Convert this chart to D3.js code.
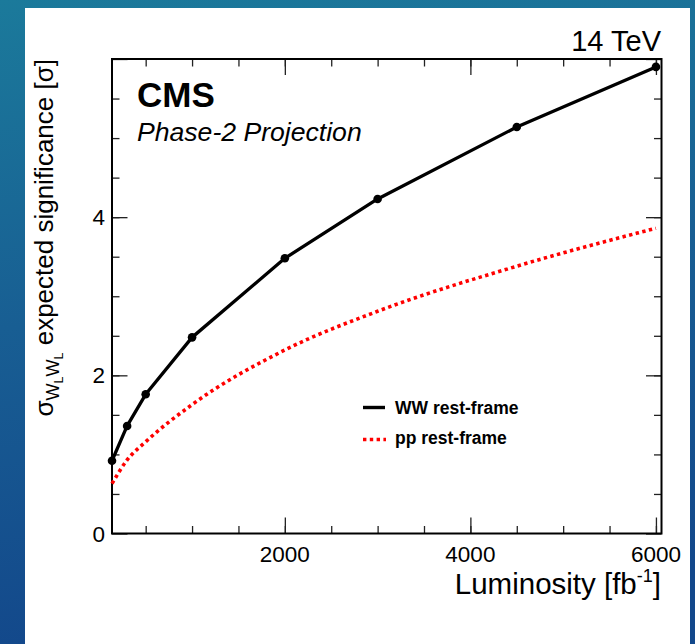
<!DOCTYPE html>
<html>
<head>
<meta charset="utf-8">
<script src="https://cdn.jsdelivr.net/npm/d3@7"></script>
<style>
  html, body { margin: 0; padding: 0; background: #fff; }
  svg { display: block; }
  text { font-family: "Liberation Sans", Arial, Helvetica, sans-serif; fill: #000; }
</style>
</head>
<body>
<svg id="chart" width="695" height="644"></svg>
<script>
// ---- data ----
const luminosity = [137, 300, 500, 1000, 2000, 3000, 4500, 6000];
const sigWW = [0.92, 1.36, 1.76, 2.48, 3.48, 4.23, 5.14, 5.90];
const sigPP = [0.63, 0.93, 1.16, 1.63, 2.32, 2.81, 3.38, 3.86];
const seriesNames = ["WW rest-frame", "pp rest-frame"];
const xMajorTicks = [2000, 4000, 6000];
const xMinorTicks = [500, 1000, 1500, 2000, 2500, 3000, 3500, 4000, 4500, 5000, 5500, 6000];
const yMajorTicks = [0, 2, 4, 6];
const yMinorTicks = [0.5, 1, 1.5, 2, 2.5, 3, 3.5, 4, 4.5, 5, 5.5];
const yTickLabels = ["0", "2", "4"];
const xTickLabels = ["2000", "4000", "6000"];

const svg = d3.select("#chart");
const W = 695, H = 644;

// background
const defs = svg.append("defs");
const grad = defs.append("linearGradient").attr("id", "bg").attr("x1", 0).attr("y1", 0).attr("x2", 0.15).attr("y2", 1);
grad.append("stop").attr("offset", "0%").attr("stop-color", "#1b7a9b");
grad.append("stop").attr("offset", "50%").attr("stop-color", "#185e93");
grad.append("stop").attr("offset", "100%").attr("stop-color", "#13488b");
svg.append("rect").attr("width", W).attr("height", H).attr("fill", "url(#bg)");
svg.append("rect").attr("x", 25).attr("y", 8).attr("width", 665).attr("height", H - 8).attr("fill", "#fff");

const frame = { left: 112, right: 661.5, top: 59, bottom: 533.5 };
const x = d3.scaleLinear().domain([137, 6060]).range([frame.left, frame.right]);
const y = d3.scaleLinear().domain([0, 6]).range([frame.bottom, frame.top]);

const g = svg.append("g");

function tickAxis(axisGen, ticks, size, transform) {
  const a = g.append("g").attr("transform", transform)
    .call(axisGen.tickValues(ticks).tickSize(size).tickFormat(""));
  a.select(".domain").remove();
  a.selectAll("line").attr("stroke", "#222").attr("stroke-width", 1.3);
}
tickAxis(d3.axisTop(x), xMinorTicks, 7.5, `translate(0,${frame.bottom})`);
tickAxis(d3.axisTop(x), xMajorTicks, 16, `translate(0,${frame.bottom})`);
tickAxis(d3.axisBottom(x), xMinorTicks, 7.5, `translate(0,${frame.top})`);
tickAxis(d3.axisBottom(x), xMajorTicks, 16, `translate(0,${frame.top})`);
tickAxis(d3.axisRight(y), yMinorTicks, 7.5, `translate(${frame.left},0)`);
tickAxis(d3.axisRight(y), yMajorTicks, 15.5, `translate(${frame.left},0)`);
tickAxis(d3.axisLeft(y), yMinorTicks, 7.5, `translate(${frame.right},0)`);
tickAxis(d3.axisLeft(y), yMajorTicks, 15.5, `translate(${frame.right},0)`);

// frame
g.append("rect").attr("x", frame.left).attr("y", frame.top)
  .attr("width", frame.right - frame.left).attr("height", frame.bottom - frame.top)
  .attr("fill", "none").attr("stroke", "#000").attr("stroke-width", 2);

// tick labels
g.selectAll(".ylab").data(yTickLabels).join("text")
  .attr("x", 105).attr("y", d => y(+d) + 8).attr("text-anchor", "end")
  .attr("font-size", 22.5).text(d => d);
g.selectAll(".xlab").data(xTickLabels).join("text")
  .attr("x", d => x(+d)).attr("y", 562).attr("text-anchor", "middle")
  .attr("font-size", 22.5).text(d => d);

// axis titles
const xt = g.append("text").attr("x", 661).attr("y", 594).attr("text-anchor", "end").attr("font-size", 29.5);
xt.append("tspan").text("Luminosity [fb");
xt.append("tspan").attr("font-size", 18).attr("dy", -12).text("-1");
xt.append("tspan").attr("dy", 12).text("]");

const yt = g.append("text").attr("transform", `translate(53,${frame.top}) rotate(-90)`)
  .attr("text-anchor", "end").attr("font-size", 26);
yt.append("tspan").text("σ");
yt.append("tspan").attr("font-size", 18).attr("dy", 6).text("W");
yt.append("tspan").attr("font-size", 12.5).attr("dy", 4).text("L");
yt.append("tspan").attr("font-size", 18).attr("dy", -4).text("W");
yt.append("tspan").attr("font-size", 12.5).attr("dy", 4).text("L");
yt.append("tspan").attr("dy", -10).text(" expected significance [σ]");

// labels
g.append("text").attr("x", 661).attr("y", 51).attr("text-anchor", "end").attr("font-size", 29).text("14 TeV");
g.append("text").attr("x", 137).attr("y", 107).attr("font-size", 35).attr("font-weight", "bold").text("CMS");
g.append("text").attr("x", 137).attr("y", 141).attr("font-size", 26.6).attr("font-style", "italic").text("Phase-2 Projection");

// series
const ppData = luminosity.map((l, i) => [l, sigPP[i]]);
const wwData = luminosity.map((l, i) => [l, sigWW[i]]);

g.append("path").datum(ppData)
  .attr("d", d3.line().x(d => x(d[0])).y(d => y(d[1])).curve(d3.curveMonotoneX))
  .attr("fill", "none").attr("stroke", "#ff0000").attr("stroke-width", 3.6)
  .attr("stroke-dasharray", "3.4,3.4");

g.append("path").datum(wwData)
  .attr("d", d3.line().x(d => x(d[0])).y(d => y(d[1])))
  .attr("fill", "none").attr("stroke", "#000").attr("stroke-width", 3.3)
  .attr("stroke-linejoin", "round");
g.selectAll(".pt").data(wwData).join("circle")
  .attr("cx", d => x(d[0])).attr("cy", d => y(d[1])).attr("r", 4.3).attr("fill", "#000");

// legend
const leg = g.append("g");
leg.append("line").attr("x1", 363).attr("x2", 385).attr("y1", 407.5).attr("y2", 407.5)
  .attr("stroke", "#000").attr("stroke-width", 3.4);
leg.append("text").attr("x", 395).attr("y", 413.5).attr("font-size", 17.5).attr("font-weight", "bold").text(seriesNames[0]);
leg.append("line").attr("x1", 363).attr("x2", 386).attr("y1", 439.5).attr("y2", 439.5)
  .attr("stroke", "#ff0000").attr("stroke-width", 3.6).attr("stroke-dasharray", "3.4,3.4");
leg.append("text").attr("x", 395).attr("y", 444).attr("font-size", 17.5).attr("font-weight", "bold").text(seriesNames[1]);
</script>
</body>
</html>
